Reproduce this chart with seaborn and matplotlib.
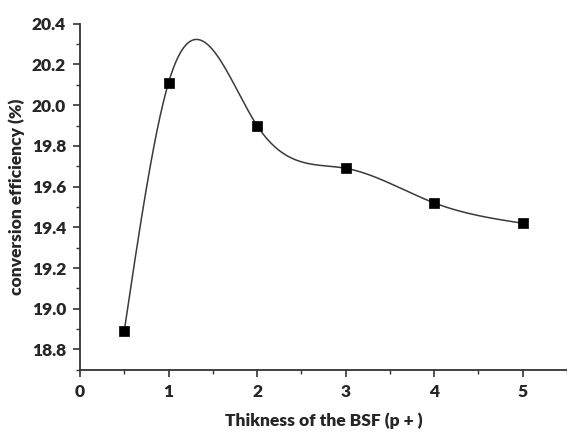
import numpy as np
import matplotlib
matplotlib.use("Agg")
import matplotlib.pyplot as plt
from matplotlib.ticker import MultipleLocator
import seaborn as sns

# BSF thickness vs conversion efficiency
thickness = [0.5, 1, 2, 3, 4, 5]
efficiency = [18.89, 20.11, 19.90, 19.69, 19.52, 19.42]
x_ticks = [0, 1, 2, 3, 4, 5]
y_ticks = [18.8, 19.0, 19.2, 19.4, 19.6, 19.8, 20.0, 20.2, 20.4]


def natural_spline(x, y, n=400):
    # natural cubic spline through the measured points (smooth connecting line)
    x = np.asarray(x, float)
    y = np.asarray(y, float)
    k = len(x)
    h = np.diff(x)
    A = np.zeros((k, k))
    b = np.zeros(k)
    A[0, 0] = A[-1, -1] = 1
    for i in range(1, k - 1):
        A[i, i - 1] = h[i - 1]
        A[i, i] = 2 * (h[i - 1] + h[i])
        A[i, i + 1] = h[i]
        b[i] = 3 * ((y[i + 1] - y[i]) / h[i] - (y[i] - y[i - 1]) / h[i - 1])
    c = np.linalg.solve(A, b)
    xs = np.linspace(x[0], x[-1], n)
    idx = np.clip(np.searchsorted(x, xs) - 1, 0, k - 2)
    dx = xs - x[idx]
    hi = h[idx]
    bi = (y[idx + 1] - y[idx]) / hi - hi * (2 * c[idx] + c[idx + 1]) / 3
    di = (c[idx + 1] - c[idx]) / (3 * hi)
    ys = y[idx] + bi * dx + c[idx] * dx ** 2 + di * dx ** 3
    return xs, ys


sns.set_theme(style="ticks")
plt.rcParams["font.family"] = ["Lato", "DejaVu Sans"]

fig = plt.figure(figsize=(5.67, 4.32), dpi=100)
ax = fig.add_axes([0.141, 0.144, 0.859, 0.801])

xs, ys = natural_spline(thickness, efficiency)
sns.lineplot(x=xs, y=ys, ax=ax, color="#3a3a3a", lw=1.1, sort=False)
sns.scatterplot(x=thickness, y=efficiency, ax=ax, marker="s", s=50,
                color="black", edgecolor="black", linewidth=0.5, zorder=3)

ax.set_xlim(0, 5.5)
ax.set_ylim(18.7, 20.4)
ax.set_xticks(x_ticks)
ax.set_yticks(y_ticks)
ax.set_xticklabels([str(t) for t in x_ticks], fontsize=12.5, fontweight="heavy")
ax.set_yticklabels([f"{t:.1f}" for t in y_ticks], fontsize=12.5, fontweight="heavy")
ax.xaxis.set_minor_locator(MultipleLocator(0.5))
ax.yaxis.set_minor_locator(MultipleLocator(0.1))
ax.tick_params(which="major", length=5, width=1.2, color="#333333", pad=5)
ax.tick_params(which="minor", length=3, width=1.0, color="#333333")

sns.despine(ax=ax)
for s in ["left", "bottom"]:
    ax.spines[s].set_linewidth(1.3)
    ax.spines[s].set_color("#333333")

ax.set_xlabel("Thikness of the BSF (p + )", fontsize=12.5, fontweight="heavy", labelpad=9)
ax.set_ylabel("conversion efficiency (%)", fontsize=12.5, fontweight="heavy", labelpad=5)
ax.grid(False)

fig.savefig("out.png", dpi=100)
